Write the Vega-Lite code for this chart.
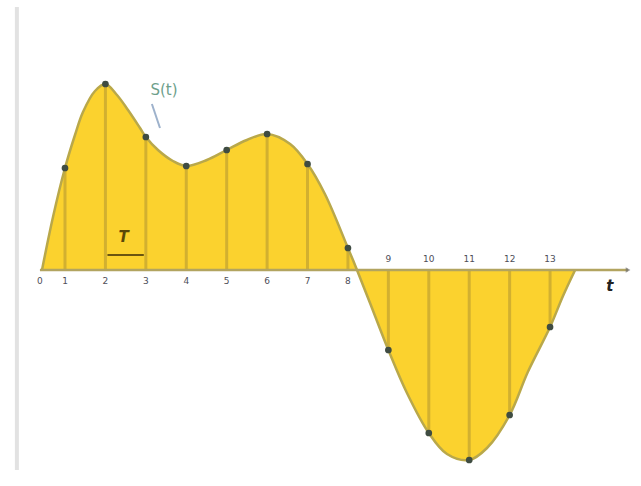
{
  "$schema": "https://vega.github.io/schema/vega-lite/v6.json",
  "width": 641,
  "height": 486,
  "autosize": {"type": "fit", "contains": "padding"},
  "padding": 0,
  "background": "#ffffff",
  "config": {"view": {"stroke": null}, "font": "DejaVu Sans"},
  "datasets": {
    "curve": [
      {"t": 0.431, "s": 0},
      {"t": 0.703, "s": 0.53},
      {"t": 1.0, "s": 1.02},
      {"t": 1.247, "s": 1.35},
      {"t": 1.445, "s": 1.58},
      {"t": 1.742, "s": 1.79},
      {"t": 2.0, "s": 1.86},
      {"t": 2.286, "s": 1.75},
      {"t": 2.559, "s": 1.6},
      {"t": 2.856, "s": 1.42},
      {"t": 3.0, "s": 1.33},
      {"t": 3.3, "s": 1.2},
      {"t": 3.67, "s": 1.09},
      {"t": 4.0, "s": 1.04},
      {"t": 4.51, "s": 1.1},
      {"t": 5.0, "s": 1.2},
      {"t": 5.5, "s": 1.3},
      {"t": 6.0, "s": 1.36},
      {"t": 6.57, "s": 1.26},
      {"t": 7.0, "s": 1.06},
      {"t": 7.43, "s": 0.76},
      {"t": 8.0, "s": 0.22},
      {"t": 8.224, "s": 0},
      {"t": 8.546, "s": -0.33},
      {"t": 9.0, "s": -0.8},
      {"t": 9.46, "s": -1.23},
      {"t": 10.0, "s": -1.63},
      {"t": 10.45, "s": -1.84},
      {"t": 11.0, "s": -1.9},
      {"t": 11.44, "s": -1.78},
      {"t": 12.0, "s": -1.45},
      {"t": 12.45, "s": -1.02},
      {"t": 13.0, "s": -0.57},
      {"t": 13.32, "s": -0.26},
      {"t": 13.62, "s": 0}
    ],
    "samples": [
      {"t": 1, "s": 1.02},
      {"t": 2, "s": 1.86},
      {"t": 3, "s": 1.33},
      {"t": 4, "s": 1.04},
      {"t": 5, "s": 1.2},
      {"t": 6, "s": 1.36},
      {"t": 7, "s": 1.06},
      {"t": 8, "s": 0.22},
      {"t": 9, "s": -0.8},
      {"t": 10, "s": -1.63},
      {"t": 11, "s": -1.9},
      {"t": 12, "s": -1.45},
      {"t": 13, "s": -0.57}
    ],
    "ticks": [
      {"t": 0.38, "v": -0.11, "txt": "0"},
      {"t": 1, "v": -0.11, "txt": "1"},
      {"t": 2, "v": -0.11, "txt": "2"},
      {"t": 3, "v": -0.11, "txt": "3"},
      {"t": 4, "v": -0.11, "txt": "4"},
      {"t": 5, "v": -0.11, "txt": "5"},
      {"t": 6, "v": -0.11, "txt": "6"},
      {"t": 7, "v": -0.11, "txt": "7"},
      {"t": 8, "v": -0.11, "txt": "8"},
      {"t": 9, "v": 0.11, "txt": "9"},
      {"t": 10, "v": 0.11, "txt": "10"},
      {"t": 11, "v": 0.11, "txt": "11"},
      {"t": 12, "v": 0.11, "txt": "12"},
      {"t": 13, "v": 0.11, "txt": "13"}
    ]
  },
  "encoding": {
    "x": {"field": "t", "type": "quantitative", "scale": {"domain": [-0.608, 15.25], "nice": false, "zero": false}, "axis": null},
    "y": {"field": "s", "type": "quantitative", "scale": {"domain": [-2.16, 2.7], "nice": false, "zero": false}, "axis": null}
  },
  "layer": [
    {
      "data": {"values": [{"t": -0.19, "s": 2.63, "s2": -2.0}]},
      "mark": {"type": "rule", "color": "#e2e2e2", "strokeWidth": 4},
      "encoding": {"y2": {"field": "s2"}}
    },
    {
      "data": {"name": "curve"},
      "mark": {"type": "area", "interpolate": "catmull-rom", "color": "#fbd22e", "opacity": 1},
      "encoding": {"y2": {"datum": 0}}
    },
    {
      "data": {"name": "samples"},
      "mark": {"type": "rule", "color": "#d2b030", "strokeWidth": 3},
      "encoding": {"y2": {"datum": 0}}
    },
    {
      "data": {"name": "curve"},
      "mark": {"type": "line", "interpolate": "catmull-rom", "color": "#b9a84a", "strokeWidth": 2.5}
    },
    {
      "data": {"values": [{"t": 0.38, "t2": 14.93, "s": 0}]},
      "mark": {"type": "rule", "color": "#b2a460", "strokeWidth": 2.5},
      "encoding": {"x2": {"field": "t2"}}
    },
    {
      "data": {"values": [{"t": 14.93, "s": 0}]},
      "mark": {"type": "point", "shape": "triangle-right", "filled": true, "size": 30, "color": "#707070"}
    },
    {
      "data": {"name": "samples"},
      "mark": {"type": "circle", "size": 45, "color": "#3f4c42", "opacity": 1}
    },
    {
      "data": {"name": "ticks"},
      "mark": {"type": "text", "fontSize": 9, "color": "#4e4e58", "baseline": "middle", "align": "center"},
      "encoding": {"y": {"field": "v", "type": "quantitative"}, "text": {"field": "txt"}}
    },
    {
      "data": {"values": [{"t": 2.05, "t2": 2.95, "s": 0.15}]},
      "mark": {"type": "rule", "color": "#6a5510", "strokeWidth": 2},
      "encoding": {"x2": {"field": "t2"}}
    },
    {
      "data": {"values": [{"t": 2.45, "s": 0.33, "txt": "T"}]},
      "mark": {"type": "text", "fontSize": 15, "fontStyle": "italic", "fontWeight": "bold", "color": "#5a4808", "baseline": "middle"},
      "encoding": {"text": {"field": "txt"}}
    },
    {
      "data": {"values": [{"t": 3.15, "s": 1.66, "t2": 3.35, "s2": 1.42}]},
      "mark": {"type": "rule", "color": "#9eb2cc", "strokeWidth": 2},
      "encoding": {"x2": {"field": "t2"}, "y2": {"field": "s2"}}
    },
    {
      "data": {"values": [{"t": 3.45, "s": 1.8, "txt": "S(t)"}]},
      "mark": {"type": "text", "fontSize": 15, "color": "#6e9f8c", "baseline": "middle"},
      "encoding": {"text": {"field": "txt"}}
    },
    {
      "data": {"values": [{"t": 14.48, "s": -0.16, "txt": "t"}]},
      "mark": {"type": "text", "fontSize": 15, "fontStyle": "italic", "fontWeight": "bold", "color": "#222222", "baseline": "middle"},
      "encoding": {"text": {"field": "txt"}}
    }
  ]
}
